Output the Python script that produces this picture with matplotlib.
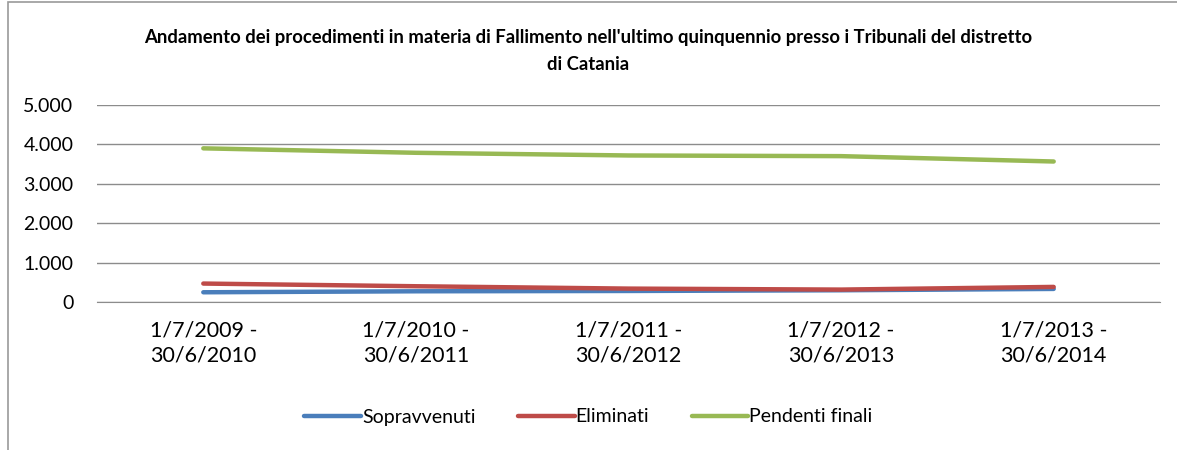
import matplotlib.pyplot as plt
from matplotlib.patches import Rectangle
from matplotlib.ticker import FuncFormatter

periodi = ['1/7/2009 -\n30/6/2010', '1/7/2010 -\n30/6/2011', '1/7/2011 -\n30/6/2012',
           '1/7/2012 -\n30/6/2013', '1/7/2013 -\n30/6/2014']
sopravvenuti = [247, 272, 280, 298, 332]
eliminati = [468, 400, 340, 315, 383]
pendenti = [3900, 3787, 3719, 3702, 3566]

plt.rcParams['font.family'] = ['Lato', 'DejaVu Sans']

fig = plt.figure(figsize=(11.77, 4.5), dpi=100)
fig.patches.append(Rectangle((8 / 1177, -0.1), 1.2, 1.1 - 2 / 450, transform=fig.transFigure,
                             fill=False, edgecolor='#9a9a9a', linewidth=1.2))
ax = fig.add_axes([97 / 1177, 1 - 302 / 450, 1063 / 1177, 197 / 450])

x = range(len(periodi))
ax.plot(x, sopravvenuti, color='#4A7EBB', lw=3.2, solid_capstyle='round', label='Sopravvenuti')
ax.plot(x, eliminati, color='#BE4B48', lw=3.2, solid_capstyle='round', label='Eliminati')
ax.plot(x, pendenti, color='#98B954', lw=3.2, solid_capstyle='round', label='Pendenti finali')

ax.set_xlim(-0.5, len(periodi) - 0.5)
ax.set_ylim(0, 5000)
ax.set_yticks(range(0, 5001, 1000))
ax.yaxis.set_major_formatter(FuncFormatter(lambda v, p: f'{int(v):,}'.replace(',', '.')))
ax.set_xticks(list(x))
ax.set_xticklabels(periodi, fontsize=15.5, linespacing=1.35)
ax.tick_params(axis='y', labelsize=14, length=0, pad=17)
ax.tick_params(axis='x', length=0, pad=13)
ax.grid(axis='y', color='#8c8c8c', lw=1)
ax.set_axisbelow(True)
for s in ['top', 'right', 'left']:
    ax.spines[s].set_visible(False)
ax.spines['bottom'].set_color('#8c8c8c')

fig.text(0.5, 1 - 51 / 450, "Andamento dei procedimenti in materia di Fallimento nell'ultimo quinquennio presso i Tribunali del distretto\ndi Catania",
         ha='center', va='center', fontsize=13.3, fontweight='bold', linespacing=1.65)

fig.legend(loc='center', bbox_to_anchor=(0.5, 1 - 417 / 450), ncol=3, frameon=False,
           fontsize=14, handlelength=2.9, handletextpad=0.05, columnspacing=2.2)

fig.savefig('out.png', dpi=100)
